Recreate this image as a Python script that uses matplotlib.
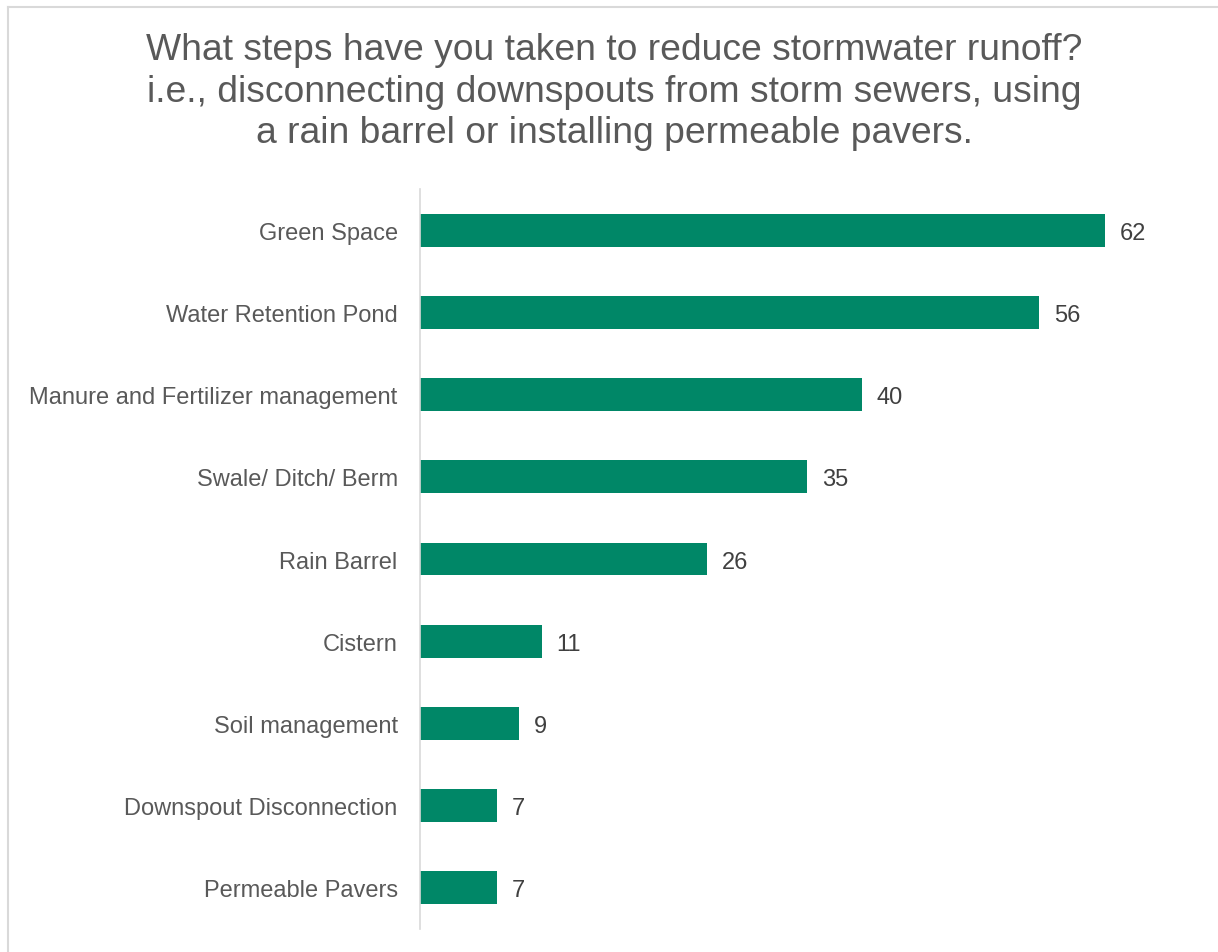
import numpy as np
import matplotlib.pyplot as plt
from matplotlib.lines import Line2D

plt.rcParams['font.family'] = ['Liberation Sans', 'DejaVu Sans']

# Данные
categories = ['Green Space', 'Water Retention Pond', 'Manure and Fertilizer management',
              'Swale/ Ditch/ Berm', 'Rain Barrel', 'Cistern', 'Soil management',
              'Downspout Disconnection', 'Permeable Pavers']
values = [62, 56, 40, 35, 26, 11, 9, 7, 7]

title = ('What steps have you taken to reduce stormwater runoff?\n'
         'i.e., disconnecting downspouts from storm sewers, using\n'
         'a rain barrel or installing permeable pavers.')

bar_color = '#008767'
text_color = '#595959'

fig = plt.figure(figsize=(12.18, 9.53), dpi=100)
ax = fig.add_axes([0.3448, 0.0241, 0.635, 0.7765])

y = np.arange(len(categories))
ax.barh(y, values, height=0.4, color=bar_color)
ax.set_ylim(len(categories) - 0.5, -0.5)
ax.set_xlim(0, 70)

for yi, v in zip(y, values):
    ax.text(v + 1.35, yi, str(v), va='center_baseline', ha='left', fontsize=17, color='#404040')

ax.set_yticks(y)
ax.set_yticklabels(categories, fontsize=17, color=text_color, va='center_baseline')
ax.tick_params(axis='y', length=0, pad=16)
ax.set_xticks([])
for s in ['top', 'right', 'bottom']:
    ax.spines[s].set_visible(False)
ax.spines['left'].set_color('#d9d9d9')
ax.spines['left'].set_linewidth(1.2)

fig.text(614 / 1218, 1 - 92 / 953, title, ha='center', va='center',
         fontsize=26.8, color=text_color, linespacing=1.25)

# рамка (видна только сверху и слева)
fig.add_artist(Line2D([8 / 1218, 8 / 1218], [0, 1 - 8 / 953], color='#d9d9d9', linewidth=1.5))
fig.add_artist(Line2D([8 / 1218, 1], [1 - 8 / 953, 1 - 8 / 953], color='#d9d9d9', linewidth=1.5))

plt.savefig('out.png', dpi=100)
